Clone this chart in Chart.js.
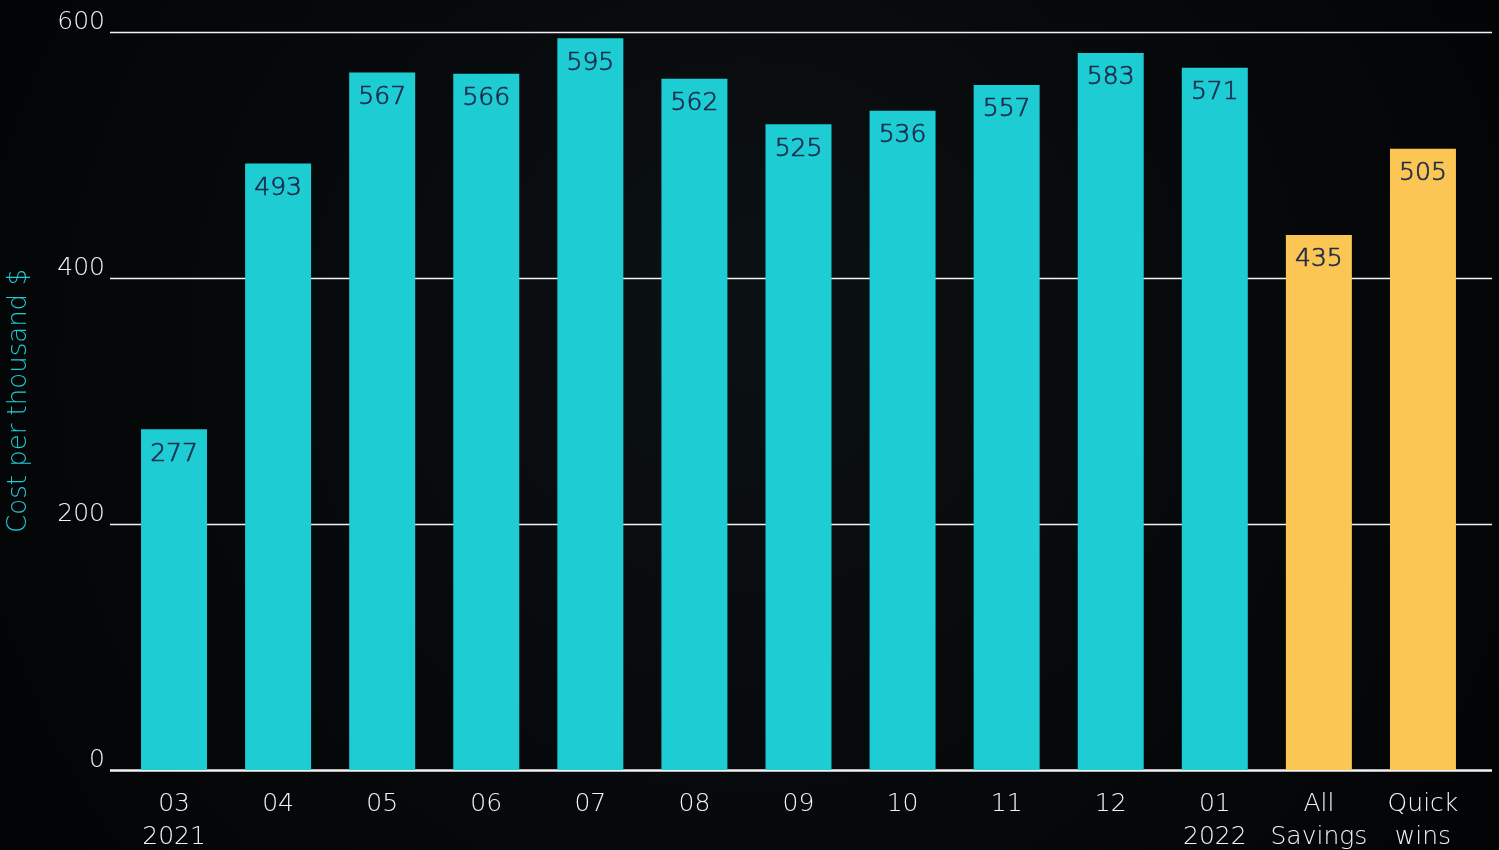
<!DOCTYPE html>
<html>
<head>
<meta charset="utf-8">
<script src="https://cdn.jsdelivr.net/npm/chart.js@4.4.1/dist/chart.umd.min.js"></script>
<style>
  html, body { margin: 0; padding: 0; background: #040607; }
  #wrap { width: 1499px; height: 850px; }
</style>
</head>
<body>
<div id="wrap"><canvas id="costChart" width="1499" height="850"></canvas></div>
<script>
// categories (month / year, then the two savings scenarios)
const categories = [
    ['03', '2021'], '04', '05', '06', '07', '08', '09', '10', '11', '12',
    ['01', '2022'], ['All', 'Savings'], ['Quick', 'wins']
];
const costValues = [277, 493, 567, 566, 595, 562, 525, 536, 557, 583, 571, 435, 505];
const barKinds = ['m', 'm', 'm', 'm', 'm', 'm', 'm', 'm', 'm', 'm', 'm', 's', 's'];
const yTicks = [0, 200, 400, 600];

const CYAN = '#1ecdd4';
const GOLD = '#fbc653';
const FONT = "'DejaVu Sans', 'Open Sans', sans-serif";

// dark backdrop
const backdrop = {
    id: 'backdrop',
    beforeDraw(chart) {
        const c = chart.ctx;
        const g = c.createRadialGradient(750, 300, 50, 750, 400, 900);
        g.addColorStop(0, '#0b1013');
        g.addColorStop(1, '#020304');
        c.save();
        c.fillStyle = g;
        c.fillRect(0, 0, chart.width, chart.height);
        c.restore();
    }
};

// horizontal rules a bit wider than the bar area
const rules = {
    id: 'rules',
    beforeDatasetsDraw(chart) {
        const c = chart.ctx;
        const y = chart.scales.y;
        const left = chart.chartArea.left - 12;
        const right = chart.chartArea.right + 17;
        c.save();
        c.strokeStyle = '#f2f2f2';
        yTicks.forEach(v => {
            const py = Math.round(y.getPixelForValue(v)) + 0.5;
            c.lineWidth = v === 0 ? 2.5 : 1.3;
            c.beginPath();
            c.moveTo(left, py);
            c.lineTo(right, py);
            c.stroke();
        });
        c.restore();
    }
};

// value labels inside the top of each bar
const valueLabels = {
    id: 'valueLabels',
    afterDatasetsDraw(chart) {
        const c = chart.ctx;
        const meta = chart.getDatasetMeta(0);
        c.save();
        c.fillStyle = '#1c2b4b';
        c.strokeStyle = '#1c2b4b';
        c.lineWidth = 0.7;
        c.font = '200 25px ' + FONT;
        c.textAlign = 'center';
        c.textBaseline = 'middle';
        meta.data.forEach((bar, i) => {
            c.fillText(costValues[i], bar.x, bar.y + 25);
            c.strokeText(costValues[i], bar.x, bar.y + 25);
        });
        c.restore();
    }
};

new Chart(document.getElementById('costChart'), {
    type: 'bar',
    data: {
        labels: categories,
        datasets: [{
            data: costValues,
            backgroundColor: barKinds.map(k => k === 's' ? GOLD : CYAN),
            borderWidth: 0,
            barPercentage: 0.634,
            categoryPercentage: 1.0
        }]
    },
    options: {
        responsive: false,
        animation: false,
        layout: { padding: { top: 32, right: 24, left: 0, bottom: 0 } },
        plugins: {
            legend: { display: false },
            tooltip: { enabled: false }
        },
        scales: {
            x: {
                grid: { display: false },
                border: { display: false },
                ticks: {
                    color: '#f4f4f4',
                    font: { family: FONT, size: 25, weight: 200, lineHeight: 1.32 },
                    padding: 10,
                    maxRotation: 0,
                    autoSkip: false
                },
                afterFit(scale) { scale.height = 80; }
            },
            y: {
                min: 0,
                max: 600,
                afterBuildTicks(scale) { scale.ticks = yTicks.map(v => ({ value: v })); },
                grid: { display: false, drawTicks: false },
                border: { display: false },
                ticks: {
                    color: '#f4f4f4',
                    font: { family: FONT, size: 25, weight: 200 },
                    padding: 17,
                    labelOffset: -10
                },
                title: {
                    display: true,
                    text: 'Cost per thousand $',
                    color: CYAN,
                    font: { family: FONT, size: 26, weight: 200 },
                    padding: { top: 4, bottom: 0 }
                },
                afterFit(scale) { scale.width = 122; }
            }
        }
    },
    plugins: [backdrop, rules, valueLabels]
});
</script>
</body>
</html>
